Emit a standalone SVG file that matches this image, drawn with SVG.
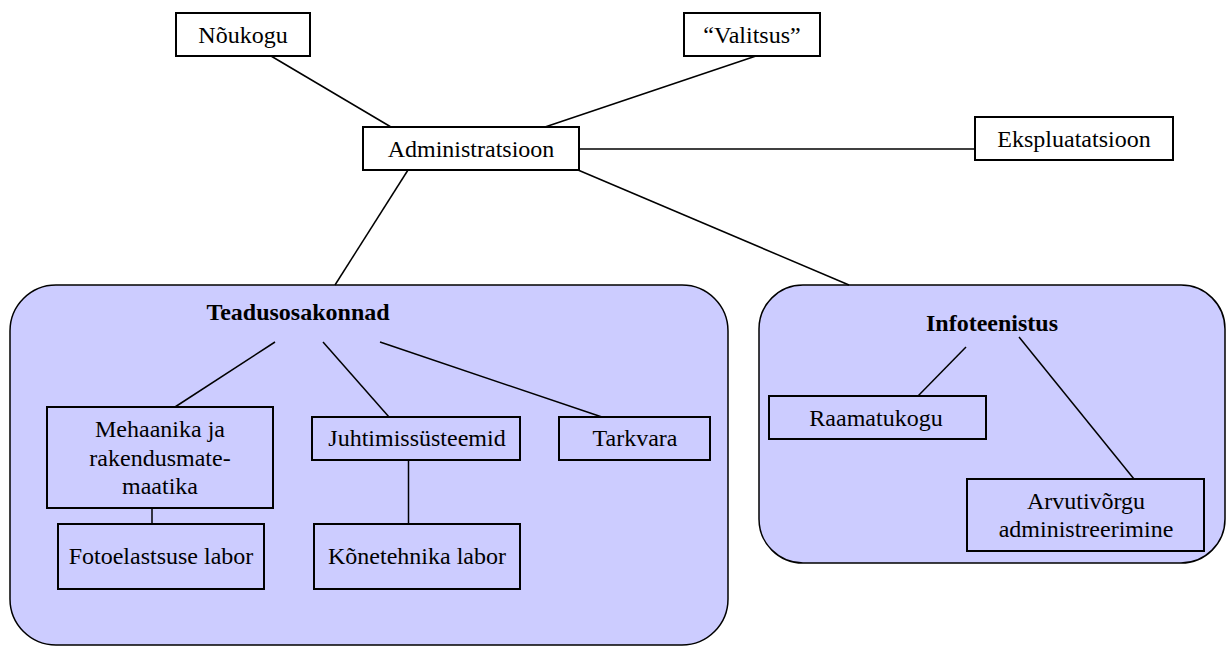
<svg xmlns="http://www.w3.org/2000/svg" width="1231" height="646" viewBox="0 0 1231 646">
<style>
.bg{fill:#ffffff}
.box{fill:#ffffff;stroke:#000;stroke-width:2}
.sbox{fill:#ccccff;stroke:#000;stroke-width:2}
.grp{fill:#ccccff;stroke:#000;stroke-width:1.5}
.t{font-family:"Liberation Serif","Times New Roman",serif;font-size:24px;fill:#000;text-anchor:middle}
.b{font-weight:bold}
.ln{stroke:#000;stroke-width:1.5;fill:none}
</style>
<rect class="bg" x="0" y="0" width="1231" height="646"/>
<g id="teadusosakonnad">
<rect class="grp" x="10" y="285" width="718" height="360" rx="46" ry="46"/>
<text class="t b" x="298" y="320">Teadusosakonnad</text>
</g>
<g id="infoteenistus">
<rect class="grp" x="759" y="285" width="466" height="278" rx="44" ry="44"/>
<text class="t b" x="992" y="331">Infoteenistus</text>
</g>
<g id="connectors">
<line class="ln" x1="271" y1="56" x2="391" y2="127"/>
<line class="ln" x1="756" y1="56" x2="545" y2="127"/>
<line class="ln" x1="579" y1="149" x2="975" y2="149"/>
<line class="ln" x1="578" y1="170" x2="849" y2="285"/>
<line class="ln" x1="408" y1="170" x2="335" y2="285"/>
<line class="ln" x1="275" y1="342" x2="175" y2="407"/>
<line class="ln" x1="323" y1="342" x2="389" y2="417"/>
<line class="ln" x1="380" y1="342" x2="602" y2="417"/>
<line class="ln" x1="152" y1="508" x2="152" y2="524"/>
<line class="ln" x1="408.5" y1="460" x2="408.5" y2="524"/>
<line class="ln" x1="966" y1="347" x2="918" y2="396"/>
<line class="ln" x1="1019" y1="337" x2="1134" y2="479"/>
</g>
<g id="noukogu">
<rect class="box" x="176" y="13" width="134" height="43"/>
<text class="t" x="243" y="43">Nõukogu</text>
</g>
<g id="valitsus">
<rect class="box" x="684" y="13" width="136" height="43"/>
<text class="t" x="752" y="43">“Valitsus”</text>
</g>
<g id="administratsioon">
<rect class="box" x="363" y="127" width="216" height="43"/>
<text class="t" x="471" y="157">Administratsioon</text>
</g>
<g id="ekspluatatsioon">
<rect class="box" x="975" y="117" width="198" height="43"/>
<text class="t" x="1074" y="147">Ekspluatatsioon</text>
</g>
<g id="mehaanika">
<rect class="sbox" x="47" y="407" width="226" height="101"/>
<text class="t" x="160" y="437">Mehaanika ja</text>
<text class="t" x="160" y="466">rakendusmate-</text>
<text class="t" x="160" y="494">maatika</text>
</g>
<g id="fotoelastsuse">
<rect class="sbox" x="58" y="524" width="206" height="65"/>
<text class="t" x="161" y="564">Fotoelastsuse labor</text>
</g>
<g id="juhtimissusteemid">
<rect class="sbox" x="312" y="417" width="208" height="43"/>
<text class="t" x="417" y="446">Juhtimissüsteemid</text>
</g>
<g id="tarkvara">
<rect class="sbox" x="559" y="417" width="151" height="43"/>
<text class="t" x="635" y="446">Tarkvara</text>
</g>
<g id="konetehnika">
<rect class="sbox" x="314" y="524" width="206" height="65"/>
<text class="t" x="417" y="564">Kõnetehnika labor</text>
</g>
<g id="raamatukogu">
<rect class="sbox" x="769" y="396" width="217" height="43"/>
<text class="t" x="876" y="426">Raamatukogu</text>
</g>
<g id="arvutivorgu">
<rect class="sbox" x="967" y="479" width="237" height="72"/>
<text class="t" x="1086" y="509">Arvutivõrgu</text>
<text class="t" x="1086" y="537">administreerimine</text>
</g>
</svg>
